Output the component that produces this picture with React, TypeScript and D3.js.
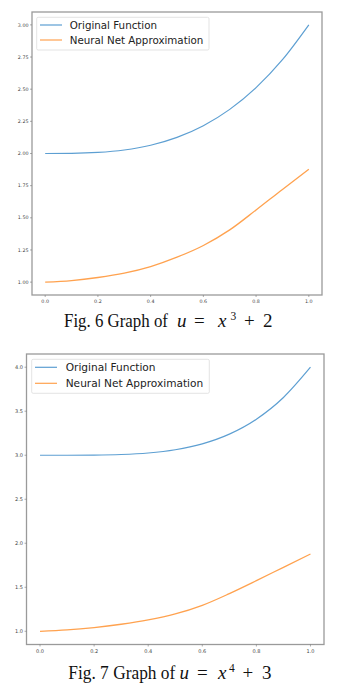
import React from "react";
import * as d3 from "d3";

// sample positions on the x axis
const xs = [0, 0.1, 0.2, 0.3, 0.4, 0.5, 0.6, 0.7, 0.8, 0.9, 1.0];

// Fig. 6 : u = x^3 + 2
const fig6Original = [2.0, 2.001, 2.008, 2.027, 2.064, 2.125, 2.216, 2.343, 2.512, 2.729, 3.0];
const fig6Approx = [1.0, 1.012, 1.036, 1.07, 1.121, 1.194, 1.285, 1.406, 1.561, 1.721, 1.877];
const fig6YTicks = [1.0, 1.25, 1.5, 1.75, 2.0, 2.25, 2.5, 2.75, 3.0];

// Fig. 7 : u = x^4 + 3
const fig7Original = [3.0, 3.0001, 3.0016, 3.0081, 3.0256, 3.0625, 3.1296, 3.2401, 3.4096, 3.6561, 4.0];
const fig7Approx = [1.0, 1.015, 1.042, 1.08, 1.129, 1.197, 1.295, 1.428, 1.575, 1.727, 1.878];
const fig7YTicks = [1.0, 1.5, 2.0, 2.5, 3.0, 3.5, 4.0];

const xTicks = [0, 0.2, 0.4, 0.6, 0.8, 1.0];
const legendLabels = ["Original Function", "Neural Net Approximation"];

const BLUE = "#5d9fd2";
const ORANGE = "#ffa24f";

type PanelProps = {
  left: number; right: number; top: number; bottom: number;
  yMin: number; yMax: number; yTicks: number[]; yFmt: string;
  original: number[]; approx: number[];
  tickFont: number;
  legend: { x0: number; x1: number; y0: number; y1: number; row1: number; gap: number; lx0: number; lx1: number; tx: number; font: number };
};

const Panel = (p: PanelProps) => {
  const x = d3.scaleLinear().domain([-0.05, 1.05]).range([p.left, p.right]);
  const y = d3.scaleLinear().domain([p.yMin, p.yMax]).range([p.bottom, p.top]);
  const line = d3.line<number>()
    .x((d, i) => x(xs[i]))
    .y((d) => y(d))
    .curve(d3.curveMonotoneX);
  const fmt = d3.format(p.yFmt);
  const lg = p.legend;
  return (
    <g>
      <path d={line(p.original) || ""} fill="none" stroke={BLUE} strokeWidth={1.2} />
      <path d={line(p.approx) || ""} fill="none" stroke={ORANGE} strokeWidth={1.3} />
      <rect x={p.left} y={p.top} width={p.right - p.left} height={p.bottom - p.top}
        fill="none" stroke="#9a9a9a" strokeWidth={1.3} />
      {p.yTicks.map((t) => (
        <g key={"y" + t}>
          <line x1={p.left - 2} x2={p.left} y1={y(t)} y2={y(t)} stroke="#777" strokeWidth={0.6} />
          <text x={p.left - 3.5} y={y(t)} dy="0.35em" textAnchor="end"
            fontSize={p.tickFont} fill="#444" fontFamily="DejaVu Sans">{fmt(t)}</text>
        </g>
      ))}
      {xTicks.map((t) => (
        <g key={"x" + t}>
          <line x1={x(t)} x2={x(t)} y1={p.bottom} y2={p.bottom + 2} stroke="#777" strokeWidth={0.6} />
          <text x={x(t)} y={p.bottom + 6.8} dy="0.35em" textAnchor="middle"
            fontSize={p.tickFont} fill="#444" fontFamily="DejaVu Sans">{d3.format(".1f")(t)}</text>
        </g>
      ))}
      <rect x={lg.x0} y={lg.y0} width={lg.x1 - lg.x0} height={lg.y1 - lg.y0} rx={1.5}
        fill="white" fillOpacity={0.85} stroke="#dcdcdc" strokeWidth={0.8} />
      {legendLabels.map((lab, i) => (
        <g key={lab}>
          <line x1={lg.lx0} x2={lg.lx1} y1={lg.row1 + i * lg.gap} y2={lg.row1 + i * lg.gap}
            stroke={i === 0 ? BLUE : ORANGE} strokeWidth={1.2} />
          <text x={lg.tx} y={lg.row1 + i * lg.gap} dy="0.36em" fontSize={lg.font}
            fill="#222" fontFamily="DejaVu Sans">{lab}</text>
        </g>
      ))}
    </g>
  );
};

// caption: plain text part, then the formula pieces placed at their own x
const Caption = ({ y, x0, w, num, exp, add, pos }: {
  y: number; x0: number; w: number; num: string; exp: string; add: string;
  pos: { u: number; eq: number; x: number; sup: number; plus: number; c: number };
}) => (
  <g fontFamily="Liberation Serif" fill="#111">
    <text x={x0} y={y} fontSize={18} textLength={w} lengthAdjust="spacingAndGlyphs">{"Fig. " + num + " Graph of"}</text>
    <text x={pos.u} y={y} fontSize={19} fontStyle="italic">u</text>
    <text x={pos.eq} y={y} fontSize={19}>=</text>
    <text x={pos.x} y={y} fontSize={19} fontStyle="italic">x</text>
    <text x={pos.sup} y={y - 7.5} fontSize={11.5}>{exp}</text>
    <text x={pos.plus} y={y} fontSize={19}>+</text>
    <text x={pos.c} y={y} fontSize={19}>{add}</text>
  </g>
);

export default function App() {
  return (
    <svg width={351} height={690} style={{ position: "absolute", left: 0, top: 0, background: "white" }}>
      <Panel left={32} right={322} top={12} bottom={295} yMin={0.9} yMax={3.1}
        yTicks={fig6YTicks} yFmt=".2f" original={fig6Original} approx={fig6Approx} tickFont={4.8}
        legend={{ x0: 36.7, x1: 209, y0: 17.3, y1: 50, row1: 25, gap: 15, lx0: 40, lx1: 62, tx: 69.7, font: 10.3 }} />
      <Caption y={327} x0={64} w={104} num="6" exp="3" add="2"
        pos={{ u: 177, eq: 194, x: 218, sup: 230.5, plus: 244, c: 263 }} />
      <Panel left={26.5} right={324} top={354} bottom={644.5} yMin={0.85} yMax={4.15}
        yTicks={fig7YTicks} yFmt=".1f" original={fig7Original} approx={fig7Approx} tickFont={5}
        legend={{ x0: 31.7, x1: 209.3, y0: 359.3, y1: 393.3, row1: 367.3, gap: 16, lx0: 35, lx1: 57, tx: 65.7, font: 10.6 }} />
      <Caption y={679} x0={68.3} w={107} num="7" exp="4" add="3"
        pos={{ u: 179.5, eq: 197, x: 218, sup: 229, plus: 242.5, c: 262 }} />
    </svg>
  );
}
